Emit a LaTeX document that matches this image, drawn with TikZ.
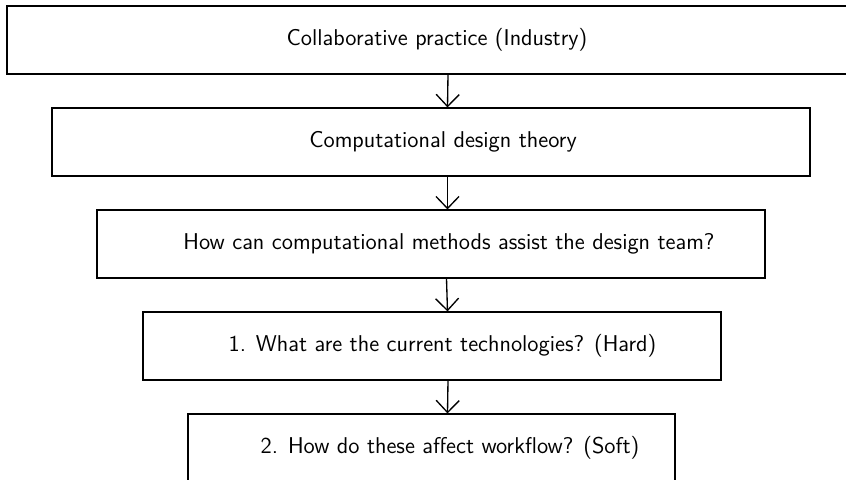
\documentclass[tikz,border=0pt]{standalone}
\usepackage[]{tikz}
\usetikzlibrary{arrows.meta}
\usetikzlibrary{positioning}
\tikzset{
  >={Straight Barb[length=7.2pt,width=13.8pt]}, % open V head
  stagebox/.style={draw=black,line width=0.7pt,rectangle,minimum height=40.8pt,inner sep=0pt,
    font=\sffamily\fontsize{13.7}{16}\selectfont},
  connect arrow/.style={->,line width=0.8pt,black}
}
\newcommand{\stage}[5][]{\node[stagebox,minimum width=#4,#1] at (#2) (#3) {#5}}

\begin{document}
\begin{tikzpicture}[x=0.6pt,y=-0.6pt]
      \useasboundingbox (0,0) rectangle (846,479);
      \clip (0,0) rectangle (846,479);
      \stage{431.5,40}{practice}{509.4pt}{\hspace*{6.6pt}Collaborative practice (Industry)};
      \stage{431,142}{theory}{454.8pt}{\hspace*{14.4pt}Computational design theory};
      \stage{431,244}{question}{400.8pt}{\hspace*{21.6pt}How can computational methods assist the design team?};
      \stage{432,346}{hard}{346.8pt}{\hspace*{12.6pt}1. What are the current technologies? (Hard)};
      \stage{431.5,448}{soft}{292.2pt}{\hspace*{22.2pt}2. How do these affect workflow? (Soft)};
      \draw[connect arrow] ([xshift=9.9pt]practice.south) -- ([xshift=9.9pt]theory.north);
      \draw[connect arrow] ([xshift=9.9pt]theory.south) -- ([xshift=9.9pt]question.north);
      \draw[connect arrow] ([xshift=9.3pt]question.south) -- ([xshift=9.3pt]hard.north);
      \draw[connect arrow] ([xshift=9.6pt]hard.south) -- ([xshift=9.6pt]soft.north);
    \end{tikzpicture}
\end{document}
